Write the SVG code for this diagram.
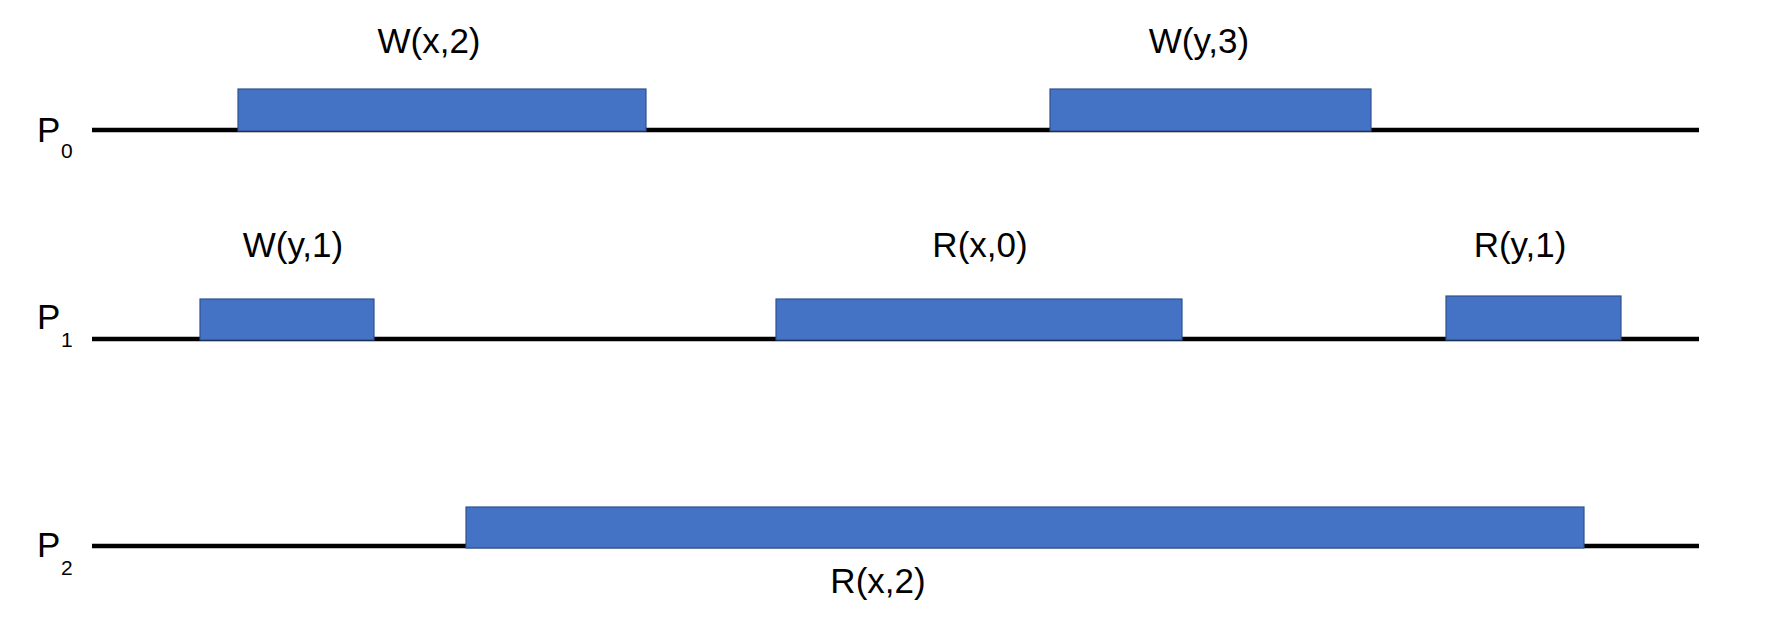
<svg xmlns="http://www.w3.org/2000/svg" width="1776" height="624" viewBox="0 0 1776 624">
<style>
.op{fill:#4472C4;stroke:#2F528F;stroke-width:1.2}
.tl{stroke:#000;stroke-width:4.5;fill:none}
.lbl{font-family:"Liberation Sans",Arial,sans-serif;font-size:35px;fill:#000;text-anchor:middle}
.p{font-family:"Liberation Sans",Arial,sans-serif;font-size:35px;fill:#000}
.sub{font-family:"Liberation Sans",Arial,sans-serif;font-size:21px;fill:#000}
</style>
<rect width="1776" height="624" fill="#fff"/>
<g id="connectors">
<line class="tl" x1="92" y1="130" x2="1699" y2="130"/>
<line class="tl" x1="92" y1="339" x2="1699" y2="339"/>
<line class="tl" x1="92" y1="546" x2="1699" y2="546"/>
</g>
<g id="P0"><text class="p" x="37" y="142">P</text><text class="sub" x="61" y="158">0</text></g>
<g id="P1"><text class="p" x="37" y="329">P</text><text class="sub" x="61" y="347">1</text></g>
<g id="P2"><text class="p" x="37" y="557">P</text><text class="sub" x="61" y="575">2</text></g>
<g id="Wx2"><rect class="op" x="238" y="89" width="408" height="42"/><text class="lbl" x="429" y="53">W(x,2)</text></g>
<g id="Wy3"><rect class="op" x="1050" y="89" width="321" height="42"/><text class="lbl" x="1199" y="53">W(y,3)</text></g>
<g id="Wy1"><rect class="op" x="200" y="299" width="174" height="41"/><text class="lbl" x="293" y="257">W(y,1)</text></g>
<g id="Rx0"><rect class="op" x="776" y="299" width="406" height="41"/><text class="lbl" x="980" y="257">R(x,0)</text></g>
<g id="Ry1"><rect class="op" x="1446" y="296" width="175" height="44"/><text class="lbl" x="1520" y="257">R(y,1)</text></g>
<g id="Rx2"><rect class="op" x="466" y="507" width="1118" height="41"/><text class="lbl" x="878" y="593">R(x,2)</text></g>
</svg>
